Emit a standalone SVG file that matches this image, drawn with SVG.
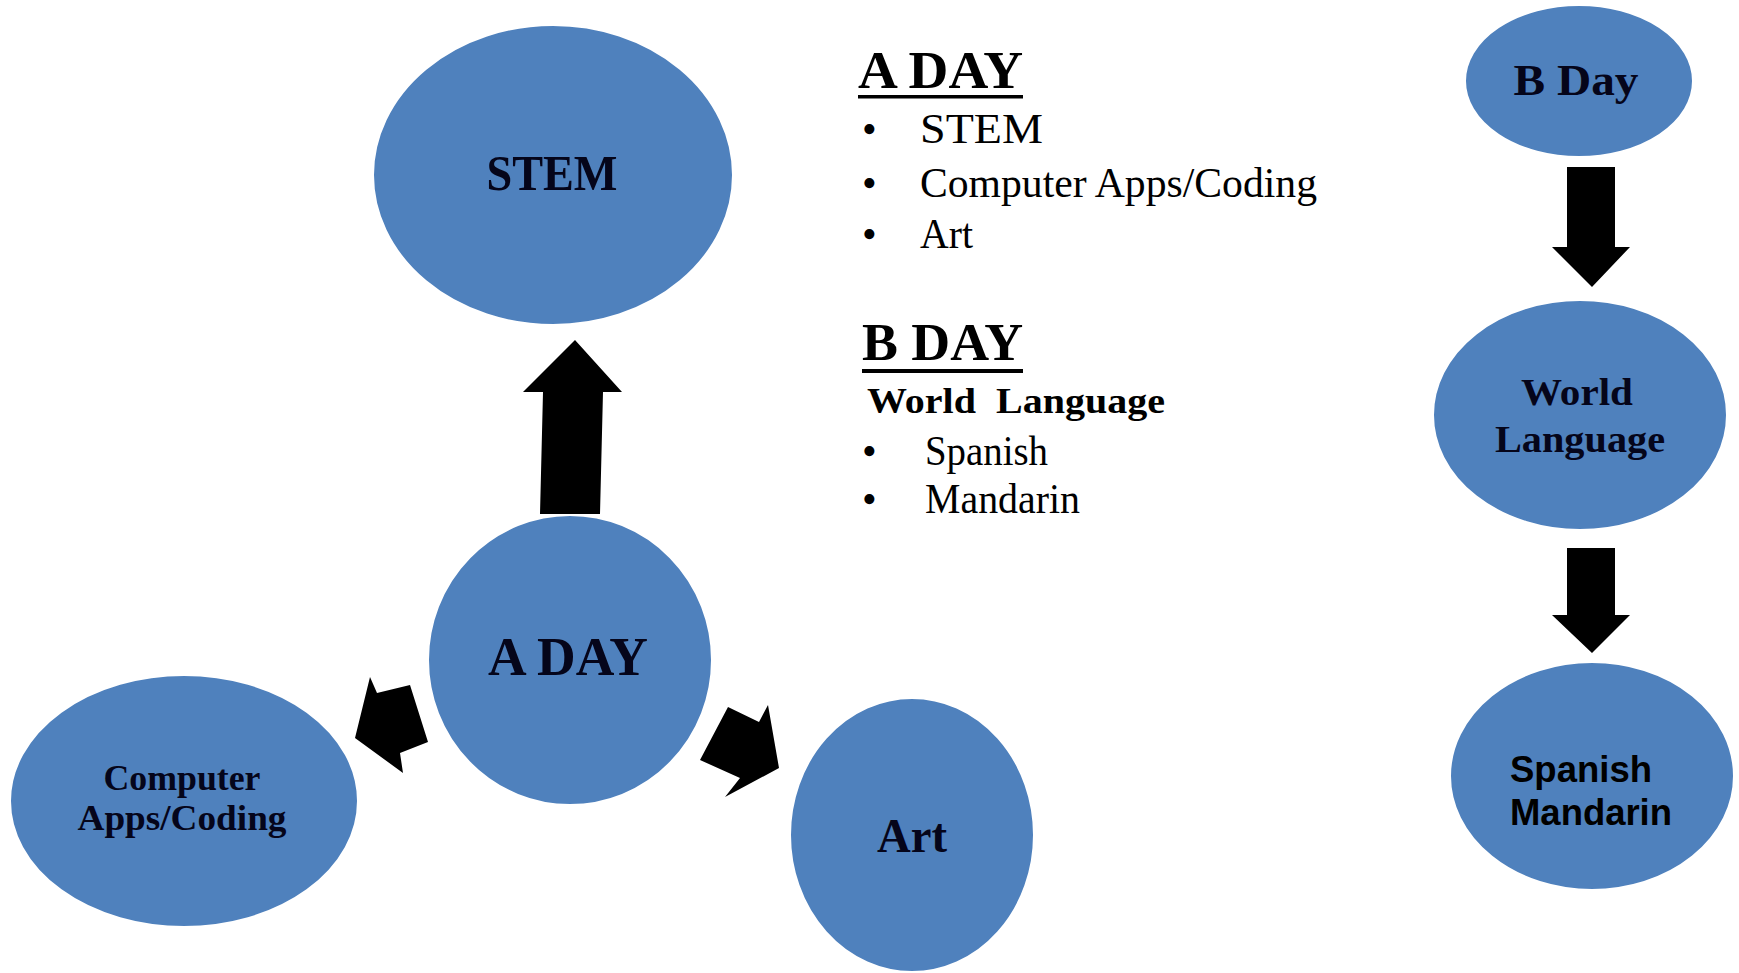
<svg xmlns="http://www.w3.org/2000/svg" width="1739" height="973" viewBox="0 0 1739 973">
<style>
.node{fill:#4F81BD;stroke:#ffffff;stroke-width:2}
.lbl{font-family:"Liberation Serif","Times New Roman",serif;font-weight:bold;fill:#05051a;text-anchor:middle}
.sans{font-family:"Liberation Sans",Arial,sans-serif;font-weight:bold;fill:#000}
.arrow{fill:#000}
.txt{font-family:"Liberation Serif","Times New Roman",serif;fill:#000}
.hd{font-family:"Liberation Serif","Times New Roman",serif;font-weight:bold;fill:#000}
</style>
<rect width="1739" height="973" fill="#ffffff"/>
<g id="connectors">
<polygon class="arrow" points="540,514 543,392 523,392 575,340 622,392 603,392 600,514"/>
<polygon class="arrow" points="355,738 370,677 377,693 410,685 428,742 400,753 403,773"/>
<polygon class="arrow" points="700,760 728,707 759,722 768,705 779,768 725,797 740,778"/>
<polygon class="arrow" points="1567,167 1615,167 1615,247 1630,247 1592,287 1552,247 1567,247"/>
<polygon class="arrow" points="1567,548 1615,548 1615,615 1630,615 1592,653 1552,615 1567,615"/>
</g>
<g id="node-stem">
<ellipse class="node" cx="553" cy="175" rx="180" ry="150"/>
<text class="lbl" x="552" y="190" font-size="50" textLength="131" lengthAdjust="spacingAndGlyphs">STEM</text>
</g>
<g id="node-aday">
<ellipse class="node" cx="570" cy="660" rx="142" ry="145"/>
<text class="lbl" x="568" y="675" font-size="55" textLength="160" lengthAdjust="spacingAndGlyphs">A DAY</text>
</g>
<g id="node-computer">
<ellipse class="node" cx="184" cy="801" rx="174" ry="126"/>
<text class="lbl" x="182" y="790" font-size="36" textLength="157" lengthAdjust="spacingAndGlyphs">Computer</text>
<text class="lbl" x="182" y="830" font-size="36" textLength="209" lengthAdjust="spacingAndGlyphs">Apps/Coding</text>
</g>
<g id="node-art">
<ellipse class="node" cx="912" cy="835" rx="122" ry="137"/>
<text class="lbl" x="912" y="852" font-size="48" textLength="70" lengthAdjust="spacingAndGlyphs">Art</text>
</g>
<g id="node-bday">
<ellipse class="node" cx="1579" cy="81" rx="114" ry="76"/>
<text class="lbl" x="1576" y="95" font-size="45" textLength="125" lengthAdjust="spacingAndGlyphs">B Day</text>
</g>
<g id="node-world">
<ellipse class="node" cx="1580" cy="415" rx="147" ry="115"/>
<text class="lbl" x="1577" y="405" font-size="38" textLength="112" lengthAdjust="spacingAndGlyphs">World</text>
<text class="lbl" x="1580" y="452" font-size="38" textLength="170" lengthAdjust="spacingAndGlyphs">Language</text>
</g>
<g id="node-spanish">
<ellipse class="node" cx="1592" cy="776" rx="142" ry="114"/>
<text class="sans" x="1510" y="782" font-size="36" textLength="142" lengthAdjust="spacingAndGlyphs">Spanish</text>
<text class="sans" x="1510" y="825" font-size="36" textLength="162" lengthAdjust="spacingAndGlyphs">Mandarin</text>
</g>
<g id="legend">
<text class="hd" x="858" y="88" font-size="53" textLength="165" lengthAdjust="spacingAndGlyphs">A DAY</text>
<rect x="858" y="95" width="165" height="3.5" fill="#000"/>
<text class="txt" x="862" y="143" font-size="42">•</text>
<text class="txt" x="920" y="143" font-size="42" textLength="123" lengthAdjust="spacingAndGlyphs">STEM</text>
<text class="txt" x="862" y="197" font-size="42">•</text>
<text class="txt" x="920" y="197" font-size="42" textLength="397" lengthAdjust="spacingAndGlyphs">Computer Apps/Coding</text>
<text class="txt" x="862" y="248" font-size="42">•</text>
<text class="txt" x="920" y="248" font-size="42" textLength="53" lengthAdjust="spacingAndGlyphs">Art</text>
<text class="hd" x="862" y="360" font-size="53" textLength="161" lengthAdjust="spacingAndGlyphs">B DAY</text>
<rect x="862" y="369" width="161" height="4" fill="#000"/>
<text class="hd" x="867" y="413" font-size="36" textLength="298" lengthAdjust="spacingAndGlyphs" xml:space="preserve">World  Language</text>
<text class="txt" x="862" y="465" font-size="42">•</text>
<text class="txt" x="925" y="465" font-size="42" textLength="123" lengthAdjust="spacingAndGlyphs">Spanish</text>
<text class="txt" x="862" y="513" font-size="42">•</text>
<text class="txt" x="925" y="513" font-size="42" textLength="155" lengthAdjust="spacingAndGlyphs">Mandarin</text>
</g>
</svg>
